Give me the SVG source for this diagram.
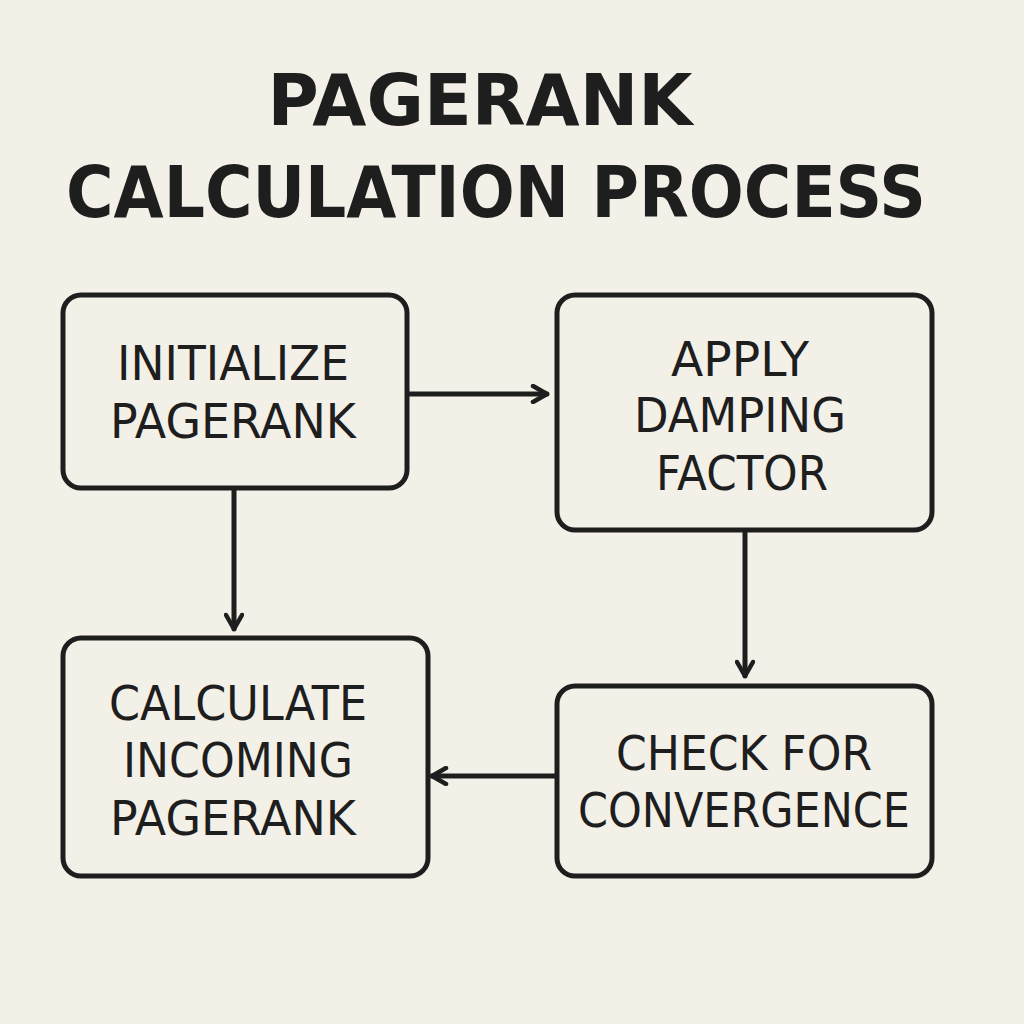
<svg xmlns="http://www.w3.org/2000/svg" width="1024" height="1024" viewBox="0 0 1024 1024">
<defs>
<style>
.box{fill:none;stroke:#1e1e1e;stroke-width:5}
.ln{stroke:#1e1e1e;stroke-width:5;fill:none;stroke-linecap:round}
.t{font-family:"DejaVu Sans",sans-serif;font-size:48px;fill:#1e1e1e;text-anchor:middle}
.h{font-family:"DejaVu Sans",sans-serif;font-weight:bold;font-size:72px;fill:#1e1e1e;text-anchor:middle}
</style>
<marker id="a" viewBox="0 0 20 20" refX="18" refY="10" markerWidth="20" markerHeight="20" markerUnits="userSpaceOnUse" orient="auto">
<path d="M4 2 L18 10 L4 18" fill="none" stroke="#1e1e1e" stroke-width="4.5" stroke-linecap="round" stroke-linejoin="round"/>
</marker>
</defs>
<rect width="1024" height="1024" fill="#f3f0e8"/>
<g id="title">
<text class="h" x="480" y="125" textLength="425" lengthAdjust="spacingAndGlyphs">PAGERANK</text>
<text class="h" x="496" y="217" textLength="860" lengthAdjust="spacingAndGlyphs">CALCULATION PROCESS</text>
</g>
<g id="n1"><rect class="box" x="63" y="295" width="344" height="193" rx="18"/>
<text class="t" x="233" y="380" textLength="232" lengthAdjust="spacingAndGlyphs">INITIALIZE</text>
<text class="t" x="233" y="438" textLength="246" lengthAdjust="spacingAndGlyphs">PAGERANK</text></g>
<g id="n2"><rect class="box" x="557" y="295" width="375" height="235" rx="18"/>
<text class="t" x="740" y="376" textLength="138" lengthAdjust="spacingAndGlyphs">APPLY</text>
<text class="t" x="740" y="432" textLength="212" lengthAdjust="spacingAndGlyphs">DAMPING</text>
<text class="t" x="742" y="490" textLength="172" lengthAdjust="spacingAndGlyphs">FACTOR</text></g>
<g id="n3"><rect class="box" x="63" y="638" width="365" height="238" rx="18"/>
<text class="t" x="238" y="720" textLength="258" lengthAdjust="spacingAndGlyphs">CALCULATE</text>
<text class="t" x="238" y="777" textLength="230" lengthAdjust="spacingAndGlyphs">INCOMING</text>
<text class="t" x="233" y="835" textLength="246" lengthAdjust="spacingAndGlyphs">PAGERANK</text></g>
<g id="n4"><rect class="box" x="557" y="686" width="375" height="190" rx="18"/>
<text class="t" x="744" y="770" textLength="256" lengthAdjust="spacingAndGlyphs">CHECK FOR</text>
<text class="t" x="744" y="827" textLength="332" lengthAdjust="spacingAndGlyphs">CONVERGENCE</text></g>
<g id="connectors">
<line class="ln" x1="409" y1="394" x2="547" y2="394" marker-end="url(#a)"/>
<line class="ln" x1="234" y1="490" x2="234" y2="629" marker-end="url(#a)"/>
<line class="ln" x1="745" y1="532" x2="745" y2="676" marker-end="url(#a)"/>
<line class="ln" x1="555" y1="776" x2="432" y2="776" marker-end="url(#a)"/>
</g>
</svg>
